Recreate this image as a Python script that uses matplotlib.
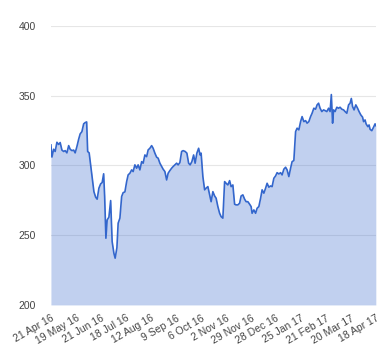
import matplotlib
matplotlib.use("Agg")
import matplotlib.pyplot as plt

# trading-day index (0 = 21 Apr 16) and closing price
trading_day = [
    0, 0.8, 2.2, 3.4, 4.8, 6.2, 7.4, 8.8, 10.2, 11.4, 12.8, 14.2, 15.4, 16.8, 18.2, 19.4,
    20.8, 22.2, 23.4, 24.8, 26.2, 27.4, 28.6, 29.4, 30.6, 31.8, 33.0, 34.4, 35.8, 37.0,
    38.4, 39.8, 41.0, 42.2, 43.0, 44.0, 45.0, 46.4, 47.8, 49.0, 50.4, 51.4, 52.8, 53.8,
    55.2, 56.6, 57.8, 59.2, 60.6, 61.8, 63.2, 64.6, 65.8, 67.2, 68.6, 69.8, 71.2, 72.6,
    73.8, 75.2, 76.6, 77.8, 79.2, 80.6, 81.8, 83.2, 84.6, 85.8, 87.2, 88.6, 89.8, 91.2,
    92.6, 93.8, 95.2, 96.6, 97.8, 99.2, 100.6, 101.8, 103.2, 104.6, 105.8, 107.4, 108.8,
    110.2, 111.4, 112.8, 114.2, 115.4, 116.8, 118.2, 119.4, 120.2, 121.6, 123.0, 124.2,
    125.6, 127.0, 128.2, 129.6, 131.0, 132.2, 133.6, 135.0, 136.2, 137.6, 139.0, 140.2,
    141.6, 143.0, 144.2, 145.6, 147.0, 148.2, 149.6, 151.0, 152.2, 153.6, 155.0, 156.2,
    157.6, 159.0, 160.2, 161.0, 162.4, 163.8, 165.0, 166.4, 167.8, 169.0, 170.4, 171.8,
    173.0, 174.4, 175.8, 177.0, 178.4, 179.8, 181.0, 182.4, 183.8, 185.0, 186.4, 187.8,
    189.0, 190.4, 191.8, 193.0, 194.4, 195.8, 197.0, 198.4, 199.8, 201.0, 202.4, 203.8,
    205.0, 206.4, 207.8, 209.0, 210.4, 211.8, 213.0, 214.2, 215.4, 216.8, 218.2, 219.4,
    220.8, 222.2, 223.4, 224.4, 225.4, 226.2, 227.4, 228.8, 230.2, 231.4, 232.8, 234.2,
    235.4, 236.8, 238.2, 239.4, 240.4, 241.4, 242.6, 244.0, 245.4, 246.6, 248.0, 249.4,
    250.2, 251.4, 252.2, 253.6, 254.6, 255.4, 256.8, 258.2, 259.4, 260.0,
]
price = [
    314.7, 306.0, 311.6, 310.0, 316.6, 315.0, 316.4, 311.0, 310.0, 310.6, 309.0, 314.2,
    311.6, 310.6, 311.0, 309.0, 313.5, 318.8, 322.6, 324.2, 329.8, 330.7, 331.2, 310.0,
    309.0, 300.4, 292.0, 281.2, 277.2, 275.8, 283.7, 286.8, 287.7, 294.0, 277.7, 247.8,
    260.9, 262.9, 274.8, 245.4, 237.0, 233.5, 241.0, 258.6, 262.2, 277.7, 280.5, 281.0,
    288.4, 293.2, 294.4, 296.8, 295.6, 300.4, 298.0, 300.4, 296.8, 302.7, 301.6, 307.5,
    306.3, 311.1, 312.3, 314.2, 312.3, 308.8, 305.9, 305.2, 301.6, 299.2, 297.3, 295.6,
    289.6, 294.4, 296.3, 298.0, 299.2, 300.4, 301.6, 300.4, 302.0, 310.0, 310.6, 310.0,
    308.8, 301.6, 300.4, 302.7, 307.5, 301.6, 308.8, 312.3, 307.5, 308.8, 292.0, 282.5,
    283.7, 284.8, 278.9, 274.0, 281.2, 278.1, 276.5, 270.5, 265.7, 263.3, 262.2, 288.4,
    287.2, 286.0, 289.1, 284.8, 286.0, 272.2, 271.7, 271.7, 272.9, 278.1, 278.9, 275.8,
    274.0, 274.0, 272.2, 270.5, 265.7, 268.1, 265.7, 269.3, 270.5, 276.5, 282.5, 280.1,
    283.7, 287.2, 284.4, 285.3, 284.8, 290.8, 292.5, 294.8, 293.9, 294.8, 293.2, 297.3,
    298.7, 296.8, 292.0, 298.0, 302.7, 303.5, 324.2, 326.7, 325.5, 331.4, 335.0, 331.4,
    332.1, 330.3, 331.4, 335.0, 337.4, 341.0, 340.3, 343.4, 344.6, 341.0, 338.6, 339.8,
    339.3, 338.6, 341.0, 338.6, 350.8, 330.3, 339.8, 338.6, 341.7, 341.0, 341.7, 340.3,
    339.8, 338.6, 337.4, 343.4, 344.6, 348.0, 342.2, 339.8, 343.4, 341.0, 338.6, 336.2,
    334.6, 331.4, 332.6, 329.8, 327.8, 329.0, 325.9, 324.9, 327.4, 329.8, 328.5,
]
tick_labels = [
    "21 Apr 16", "19 May 16", "21 Jun 16", "18 Jul 16", "12 Aug 16", "9 Sep 16",
    "6 Oct 16", "2 Nov 16", "29 Nov 16", "28 Dec 16", "25 Jan 17", "21 Feb 17",
    "20 Mar 17", "18 Apr 17",
]
y_ticks = [200, 250, 300, 350, 400]

line_color = "#3366cc"

plt.rcParams["font.family"] = ["Liberation Sans", "DejaVu Sans"]

fig = plt.figure(figsize=(3.8, 3.6), dpi=100)
ax = fig.add_axes([0.134, 0.153, 0.855, 0.775])

# semi-transparent area so the gridlines show through, like the original
ax.fill_between(trading_day, price, y_ticks[0], color=line_color, alpha=0.3, lw=0, zorder=2)
ax.plot(trading_day, price, color=line_color, lw=1.2, zorder=3)

ax.set_xlim(0, 260)
ax.set_ylim(200, 400)
ax.set_yticks(y_ticks)
ax.set_xticks(range(0, 20 * len(tick_labels), 20))
ax.set_xticklabels(tick_labels, rotation=30, ha="right", rotation_mode="anchor")

ax.grid(axis="y", color="#e6e6e6", lw=0.8, zorder=1)
ax.grid(axis="x", visible=False)
for s in ax.spines.values():
    s.set_visible(False)
ax.tick_params(length=0, labelsize=7.5, labelcolor="#444444")
ax.tick_params(axis="y", pad=11)
ax.tick_params(axis="x", pad=6)

fig.savefig("out.png", dpi=100)
